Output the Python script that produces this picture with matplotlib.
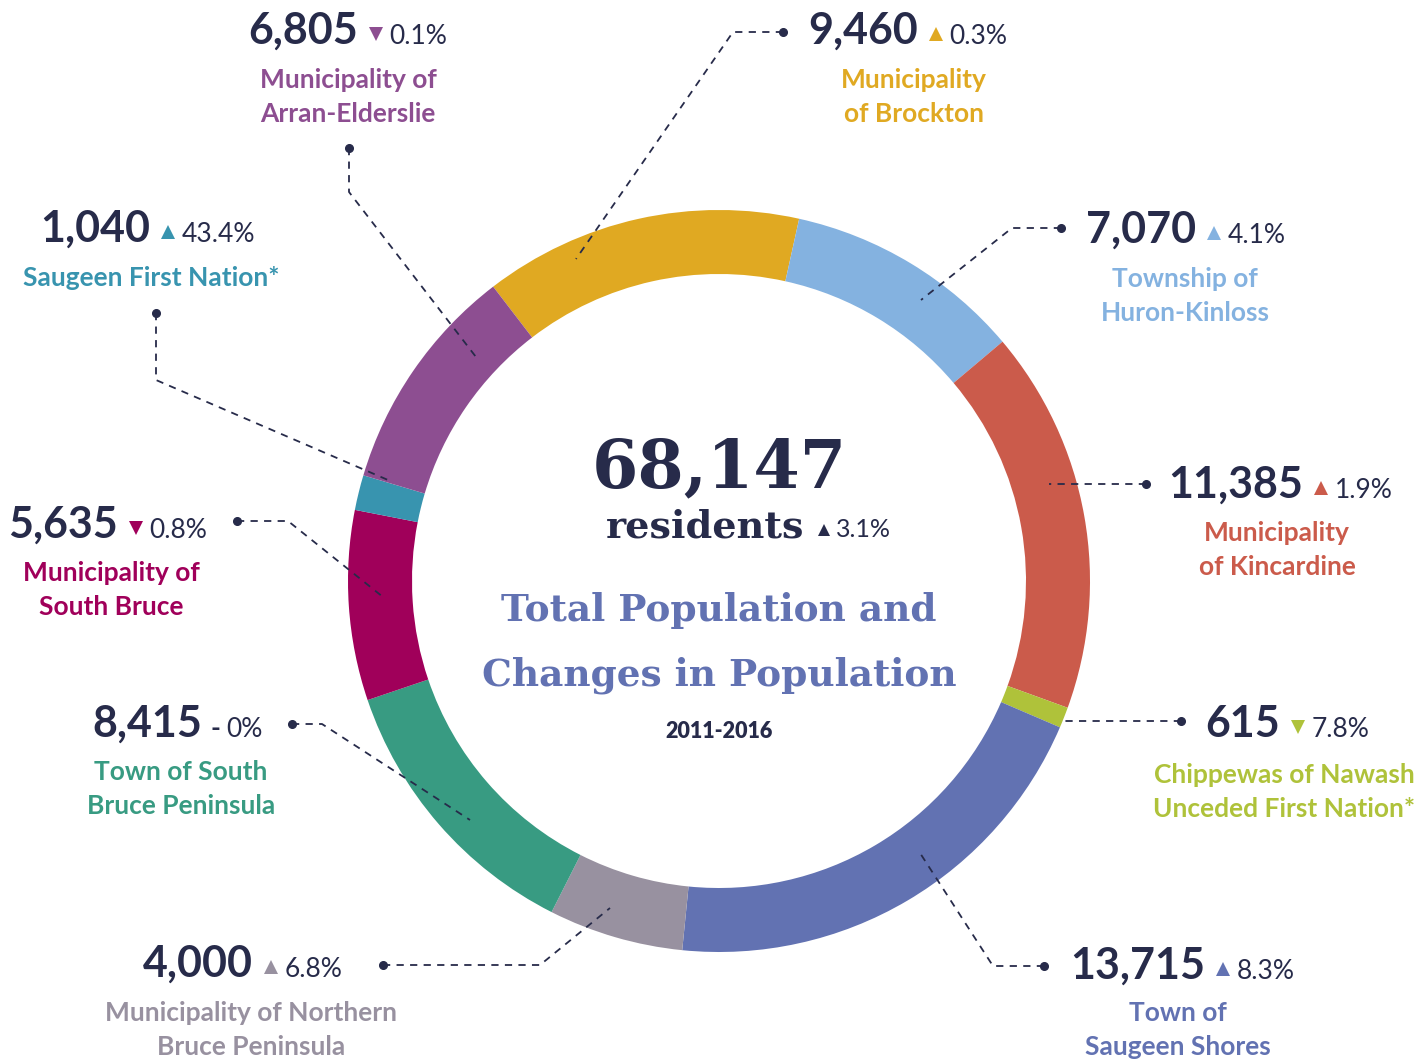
import numpy as np
import matplotlib.pyplot as plt

# data
regions = ['Municipality\nof Brockton', 'Township of\nHuron-Kinloss', 'Municipality\nof Kincardine',
           'Chippewas of Nawash\nUnceded First Nation*', 'Town of\nSaugeen Shores',
           'Municipality of Northern\nBruce Peninsula', 'Town of South\nBruce Peninsula',
           'Municipality of\nSouth Bruce', 'Saugeen First Nation*', 'Municipality of\nArran-Elderslie']
population = [9460, 7070, 11385, 615, 13715, 4000, 8415, 5635, 1040, 6805]
change_pct = ['0.3%', '4.1%', '1.9%', '7.8%', '8.3%', '6.8%', '0%', '0.8%', '43.4%', '0.1%']
change_dir = [1, 1, 1, -1, 1, 1, 0, -1, 1, -1]
colors = ['#E0A922', '#84B2E0', '#CB5B4B', '#AFC23A', '#6272B2',
          '#9891A0', '#389B82', '#A0005A', '#3894AF', '#8D4E91']
total = 68147
total_change = '3.1%'
title_lines = ['Total Population and', 'Changes in Population']
period = '2011-2016'

navy = '#272B4A'

# layout (pixels, y down)
num_pos = [(808, 44), (1086, 243), (1168, 498), (1205, 737), (1070, 979),
           (143, 977), (92, 737), (8, 538), (40, 242), (248, 44)]
lab_pos = [(914, 97), (1185, 296), (1277, 550), (1284, 792), (1178, 1030),
           (251, 1030), (181, 789), (111, 590), (151, 278), (348, 97)]
leaders = [[(783, 32), (733, 32), (576, 259)],
           [(1061, 228), (1012, 228), (921, 300)],
           [(1146, 484), (1049, 484)],
           [(1181, 721), (1062, 721)],
           [(1044, 966), (993, 966), (920, 853)],
           [(383, 965), (540, 965), (610, 908)],
           [(292, 724), (322, 724), (470, 820)],
           [(237, 521), (288, 521), (383, 597)],
           [(156, 313), (156, 380), (388, 480)],
           [(349, 148), (349, 192), (476, 357)]]

W, H = 1427, 1062
fig = plt.figure(figsize=(W / 100, H / 100), dpi=100)
ax = fig.add_axes([0, 0, 1, 1])

cx, cy = 719, 581
ax.pie(population, colors=colors, center=(cx, cy), radius=371, startangle=232.5,
       counterclock=True, wedgeprops=dict(width=64, linewidth=0))
ax.set_xlim(0, W)
ax.set_ylim(H, 0)
ax.set_aspect('equal')
ax.axis('off')

num_font = ['Lato', 'DejaVu Sans']
renderer = fig.canvas.get_renderer()
inv = ax.transData.inverted()

for i in range(len(regions)):
    x0, yb = num_pos[i]
    t = ax.text(x0, yb, f'{population[i]:,}', fontsize=31, fontweight='bold', color=navy,
                family=num_font, ha='left', va='baseline')
    bb = t.get_window_extent(renderer)
    xr = inv.transform((bb.x1, bb.y0))[0]
    if change_dir[i] == 0:
        ax.text(xr + 9, yb, '-', fontsize=19, color=navy, family=num_font,
                ha='left', va='baseline', fontweight='bold')
        xp = xr + 24
    else:
        mk = '^' if change_dir[i] > 0 else 'v'
        ax.plot(xr + 18, yb - 10, marker=mk, markersize=10, color=colors[i], markeredgewidth=0)
        xp = xr + 32
    ax.text(xp, yb, change_pct[i], fontsize=19, color=navy, family=num_font,
            ha='left', va='baseline')
    lx, ly = lab_pos[i]
    ax.text(lx, ly, regions[i], fontsize=19, fontweight='bold', color=colors[i],
            family=num_font, ha='center', va='center', linespacing=1.5)
    pts = np.array(leaders[i])
    ax.plot(pts[:, 0], pts[:, 1], color=navy, lw=1.3, ls=(0, (4, 3.5)))
    ax.plot(pts[0, 0], pts[0, 1], 'o', color=navy, markersize=5.5)

# centre text
serif = ['DejaVu Serif']
ax.text(cx, 487, f'{total:,}', fontsize=48, fontweight='bold', color=navy, family=serif,
        ha='center', va='baseline')
t = ax.text(705, 537, 'residents', fontsize=27.5, fontweight='bold', color=navy, family=serif,
            ha='center', va='baseline')
bb = t.get_window_extent(renderer)
xr = inv.transform((bb.x1, bb.y0))[0]
ax.plot(xr + 20, 530, marker='^', markersize=9, color=navy, markeredgewidth=0)
ax.text(xr + 32, 537, total_change, fontsize=18, color=navy, family=num_font,
        ha='left', va='baseline')
ax.text(cx, 621, title_lines[0], fontsize=27, fontweight='bold', color='#6272B2',
        family=serif, ha='center', va='baseline')
ax.text(cx, 686, title_lines[1], fontsize=27, fontweight='bold', color='#6272B2',
        family=serif, ha='center', va='baseline')
ax.text(cx, 731, period, fontsize=15.5, fontweight='heavy', color=navy, family=num_font,
        ha='center', va='center')

fig.savefig('out.png', dpi=100)
